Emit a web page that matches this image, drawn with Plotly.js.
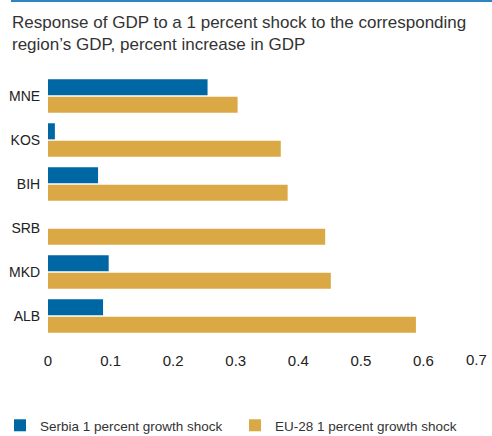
<!DOCTYPE html>
<html>
<head>
<meta charset="utf-8">
<script src="https://cdn.plot.ly/plotly-3.0.1.min.js"></script>
<style>
html,body{margin:0;padding:0;background:#fff;}
#chart{width:492px;height:436px;}
</style>
</head>
<body>
<div id="chart"></div>
<script>
const categories = ["MNE", "KOS", "BIH", "SRB", "MKD", "ALB"];
const serbiaShock = [0.255, 0.011, 0.080, 0, 0.097, 0.088];
const euShock = [0.303, 0.372, 0.383, 0.443, 0.452, 0.588];
const seriesNames = ["Serbia 1 percent growth shock", "EU-28 1 percent growth shock"];
const tickValues = [0, 0.1, 0.2, 0.3, 0.4, 0.5, 0.6, 0.7];
const tickLabels = ["0", "0.1", "0.2", "0.3", "0.4", "0.5", "0.6", "0.7"];
const titleText = "Response of GDP to a 1 percent shock to the corresponding<br>region’s GDP, percent increase in GDP";

const REG = '"Liberation Sans", Arial, sans-serif';
const last = tickValues.length - 1;

const data = [
  {type: 'bar', orientation: 'h', name: seriesNames[0], y: categories, x: serbiaShock,
   marker: {color: '#0067a5'}, hoverinfo: 'none'},
  {type: 'bar', orientation: 'h', name: seriesNames[1], y: categories, x: euShock,
   marker: {color: '#daa945'}, hoverinfo: 'none'}
];

const layout = {
  width: 492, height: 436,
  paper_bgcolor: '#fff', plot_bgcolor: '#fff',
  margin: {l: 48, r: 6, t: 74, b: 98, autoexpand: false},
  barmode: 'group', bargap: 0.21, bargroupgap: 0.075,
  title: {text: titleText, xref: 'container', yref: 'container', x: 12/492, xanchor: 'left',
          y: 1 - 28/436, yanchor: 'top',
          font: {family: REG, size: 17, color: '#333'}},
  font: {family: REG, size: 14, color: '#222'},
  xaxis: {range: [0, 0.7], tickvals: tickValues.slice(0, last), ticktext: tickLabels.slice(0, last),
          showgrid: false, zeroline: false,
          showline: false, ticks: 'outside', ticklen: 9, tickcolor: 'rgba(0,0,0,0)', fixedrange: true,
          automargin: false, tickfont: {family: REG, size: 15, color: '#222'}},
  yaxis: {type: 'category', autorange: 'reversed', showgrid: false, zeroline: false, showline: false,
          ticks: 'outside', ticklen: 4, tickcolor: 'rgba(0,0,0,0)', fixedrange: true, automargin: false,
          tickfont: {family: REG, size: 14, color: '#222'}},
  annotations: [{xref: 'x', yref: 'paper', x: tickValues[last], y: -21/264, xanchor: 'right', yanchor: 'middle',
                 xshift: 3, text: tickLabels[last], showarrow: false,
                 font: {family: REG, size: 15, color: '#222'}}],
  showlegend: true,
  legend: {orientation: 'h', xref: 'paper', yref: 'paper', x: -48/438, xanchor: 'left',
           y: -72/264, yanchor: 'top',
           font: {family: REG, size: 13.5, color: '#333'}, entrywidth: 190, entrywidthmode: 'pixels',
           traceorder: 'normal'},
  shapes: [{type: 'line', xref: 'paper', yref: 'paper', x0: -37/438, x1: 1.02, y0: 1 + 73/264, y1: 1 + 73/264,
            line: {color: '#2e86c1', width: 2}}]
};

Plotly.newPlot('chart', data, layout, {staticPlot: true, displayModeBar: false});
</script>
</body>
</html>
